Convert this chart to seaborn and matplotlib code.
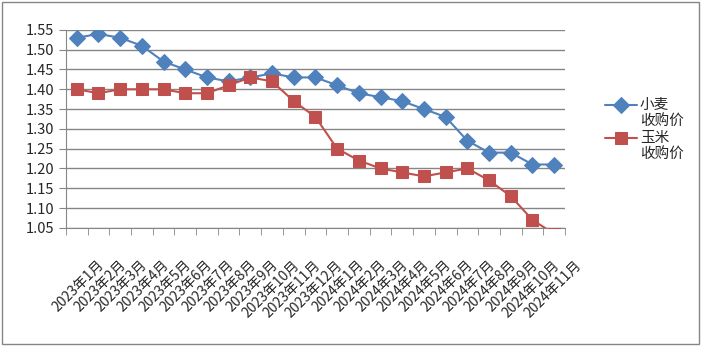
import matplotlib
matplotlib.use("Agg")
import matplotlib.pyplot as plt
import matplotlib.transforms as mtransforms
import seaborn as sns
import pandas as pd
import numpy as np
from matplotlib.patches import Rectangle

# months on the x axis
months = ["2023年%d月" % m for m in range(1, 13)] + ["2024年%d月" % m for m in range(1, 12)]

# purchase prices
wheat = [1.53, 1.54, 1.53, 1.51, 1.47, 1.45, 1.43, 1.42, 1.43, 1.44, 1.43, 1.43,
         1.41, 1.39, 1.38, 1.37, 1.35, 1.33, 1.27, 1.24, 1.24, 1.21, 1.21]
corn = [1.40, 1.39, 1.40, 1.40, 1.40, 1.39, 1.39, 1.41, 1.43, 1.42, 1.37, 1.33,
        1.25, 1.22, 1.20, 1.19, 1.18, 1.19, 1.20, 1.17, 1.13, 1.07, 1.035]
series_names = ["小麦\n收购价", "玉米\n收购价"]
yticks = [1.05, 1.10, 1.15, 1.20, 1.25, 1.30, 1.35, 1.40, 1.45, 1.50, 1.55]

sns.set_style("white")
plt.rcParams['font.family'] = ['Noto Sans CJK SC', 'DejaVu Sans']

df = pd.DataFrame({"idx": np.arange(len(months)), "wheat": wheat, "corn": corn})

fig = plt.figure(figsize=(7.01, 3.56), dpi=100)
ax = fig.add_axes([0.094, 0.36, 0.712, 0.556])

sns.lineplot(data=df, x="idx", y="wheat", ax=ax, color="#4F81BD", marker="D",
             markersize=8, markeredgecolor="#4F81BD", linewidth=1.5,
             label=series_names[0], zorder=3)
sns.lineplot(data=df, x="idx", y="corn", ax=ax, color="#C0504D", marker="s",
             markersize=9, markeredgecolor="#C0504D", linewidth=1.5,
             label=series_names[1], zorder=3)

ax.set_xlim(-0.5, len(months) - 0.5)
ax.set_ylim(1.05, 1.55)
ax.set_yticks(yticks)
ax.set_yticklabels(["%.2f" % v for v in yticks], fontsize=10.5)
ax.yaxis.grid(True, color="#868686", linewidth=1)
ax.set_axisbelow(True)

ax.set_xticks(np.arange(len(months)))
ax.set_xticks(np.arange(len(months) + 1) - 0.5, minor=True)
ax.tick_params(axis="x", which="major", length=0, pad=0)
ax.tick_params(axis="x", which="minor", length=5, color="#868686", direction="out", bottom=True)
ax.tick_params(axis="y", length=5, color="#868686", direction="out", left=True)
ax.set_xticklabels(months, rotation=45, ha="right", rotation_mode="anchor", fontsize=10)
# excel-ish placement of the rotated labels (after tick_params, which resets transforms)
shift = mtransforms.ScaledTranslation(0.20, -0.30, fig.dpi_scale_trans)
for lab in ax.get_xticklabels():
    lab.set_transform(lab.get_transform() + shift)
ax.set_xlabel("")
ax.set_ylabel("")

for s in ["top", "right"]:
    ax.spines[s].set_visible(False)
for s in ["left", "bottom"]:
    ax.spines[s].set_color("#868686")

leg = ax.legend(loc="center left", bbox_to_anchor=(1.08, 0.495), frameon=False,
                fontsize=10.5, handlelength=2.2, handletextpad=0.2,
                labelspacing=0.2, borderaxespad=0, borderpad=0)
# put the legend symbol next to the first text line, like excel does
for h in leg.legend_handles:
    h.set_ydata(np.asarray(h.get_ydata()) + 6)

fig.patches.append(Rectangle((0.003, 0.035), 0.994, 0.96, transform=fig.transFigure,
                             fill=False, edgecolor="#868686", linewidth=1))

fig.savefig("out.png", dpi=100)
